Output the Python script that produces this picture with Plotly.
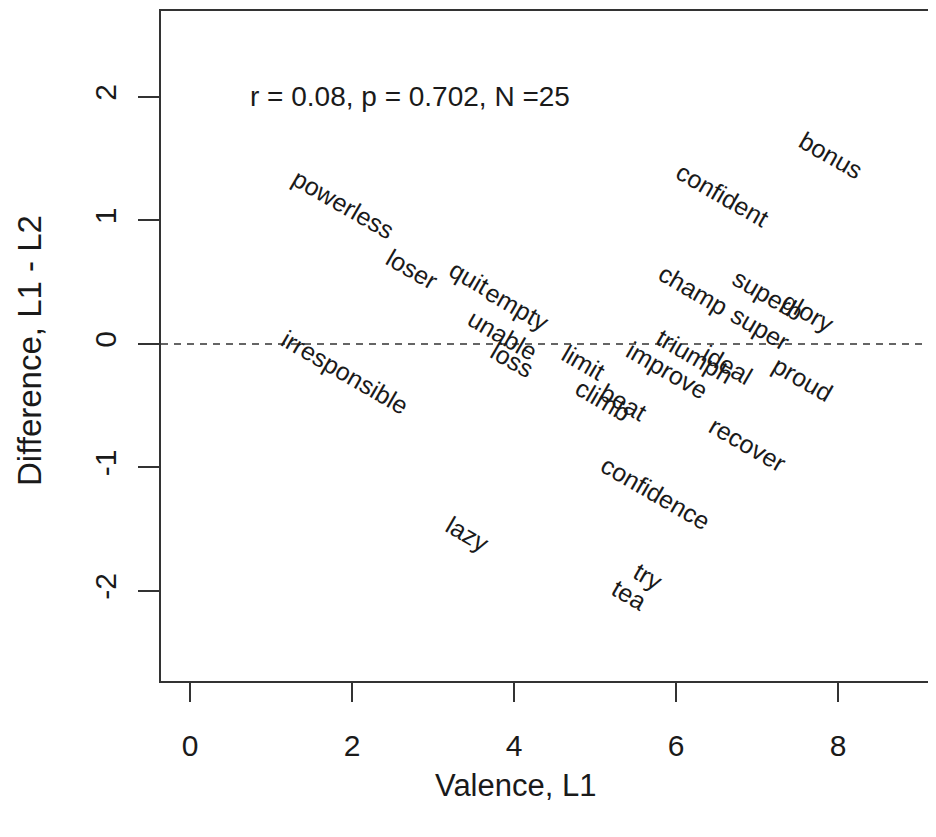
import plotly.graph_objects as go

words = ["bonus", "confident", "powerless", "loser", "quit", "empty", "unable", "loss",
         "irresponsible", "champ", "super", "superb", "glory", "triumph", "ideal", "improve",
         "proud", "limit", "climb", "beat", "recover", "confidence", "lazy", "try", "tea"]
valence = [7.91, 6.58, 1.89, 2.74, 3.44, 4.04, 3.86, 3.98,
           1.91, 6.22, 7.04, 7.14, 7.63, 6.23, 6.64, 5.89,
           7.57, 4.85, 5.10, 5.35, 6.88, 5.75, 3.43, 5.65, 5.43]
difference = [1.53, 1.21, 1.13, 0.61, 0.54, 0.30, 0.07, -0.13,
              -0.23, 0.44, 0.13, 0.40, 0.26, -0.10, -0.17, -0.21,
              -0.28, -0.15, -0.45, -0.47, -0.81, -1.21, -1.54, -1.88, -2.03]
x_ticks = [0, 2, 4, 6, 8]
y_ticks = [-2, -1, 0, 1, 2]
stats_label = "r = 0.08, p = 0.702, N =25"

FONT = "Liberation Sans, Arial, sans-serif"
INK = "#1a1a1a"

# page has an 8px body margin; size the figure to fill the rest of the window
OFF = 8
W, H = 936 - OFF, 837 - OFF
L, R, T = 161 - OFF, 0, 11 - OFF
B = H - (681 - OFF)
pw, ph = W - L - R, H - T - B


def px_to_paper(sx, sy):
    """screen pixel (in the 936x837 window) -> paper coords"""
    fx, fy = sx - OFF, sy - OFF
    return (fx - L) / pw, (H - B - fy) / ph


fig = go.Figure()
fig.add_trace(go.Scatter(x=valence, y=difference, mode="markers",
                         marker=dict(size=1, opacity=0), hoverinfo="text",
                         text=words, showlegend=False))

annotations = []
for w, xv, yv in zip(words, valence, difference):
    annotations.append(dict(x=xv, y=yv, xref="x", yref="y", text=w, showarrow=False,
                            textangle=30, xanchor="center", yanchor="middle",
                            font=dict(family=FONT, size=25, color=INK)))

annotations.append(dict(x=0.72, y=2.0, xref="x", yref="y", text=stats_label,
                        showarrow=False, xanchor="left", yanchor="middle",
                        font=dict(family=FONT, size=28, color=INK)))

tx, ty = px_to_paper(515, 785)
annotations.append(dict(x=tx, y=ty, xref="paper", yref="paper", text="Valence, L1",
                        showarrow=False, xanchor="center", yanchor="middle",
                        font=dict(family=FONT, size=31, color=INK)))
tx, ty = px_to_paper(29, 351)
annotations.append(dict(x=tx, y=ty, xref="paper", yref="paper", text="Difference, L1 - L2",
                        showarrow=False, xanchor="center", yanchor="middle", textangle=-90,
                        font=dict(family=FONT, size=33, color=INK)))

fig.add_shape(type="line", xref="paper", yref="y", x0=0, x1=1, y0=0, y1=0,
              line=dict(color="#333333", width=1.5, dash="7px,6px"))

fig.update_layout(
    width=W, height=H,
    margin=dict(l=L, r=R, t=T, b=B, pad=0),
    paper_bgcolor="white", plot_bgcolor="white",
    annotations=annotations,
    font=dict(family=FONT, color=INK),
    xaxis=dict(range=[-0.358, 9.21], tickvals=x_ticks, ticktext=[str(v) for v in x_ticks],
               ticks="outside", ticklen=19, tickwidth=1.5, tickcolor="#333333",
               showline=True, linecolor="#333333", linewidth=1.5, mirror=True,
               showgrid=False, zeroline=False, ticklabelstandoff=18,
               tickfont=dict(family=FONT, size=30, color=INK)),
    yaxis=dict(range=[-2.729, 2.696], tickvals=y_ticks, ticktext=[str(v) for v in y_ticks],
               ticks="outside", ticklen=21, tickwidth=1.5, tickcolor="#333333",
               showline=True, linecolor="#333333", linewidth=1.5, mirror=False,
               showgrid=False, zeroline=False, tickangle=-90, ticklabelstandoff=10,
               tickfont=dict(family=FONT, size=30, color=INK)),
)

fig.write_html("out.html")
